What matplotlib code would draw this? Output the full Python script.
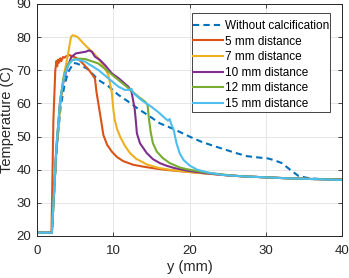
import matplotlib
matplotlib.use('Agg')
import matplotlib.pyplot as plt
from matplotlib.patches import Rectangle

plt.rcParams['font.family'] = ['Liberation Sans', 'DejaVu Sans']

# curve data (y in mm, temperature in C)
x_ref = [0, 1.95, 2.6, 3.1, 3.6, 4.1, 4.8, 5.3, 6.0, 6.7, 8.04, 9.35, 10.66, 12, 13.3, 14.6,
         16.1, 17.9, 20, 21.5, 23, 24.5, 26, 27.5, 29, 30.3, 31.2, 32.1, 33.2, 34.3, 35.5,
         37, 40]
t_ref = [21, 21, 47, 59, 65.5, 69.5, 72.2, 72, 71.2, 70.3, 67.1, 65.2, 62.6, 60.5, 58.3, 56.4,
         54, 52.3, 50, 48.5, 47.3, 46.2, 45.1, 44.1, 43.7, 43.4, 42.8, 42, 40, 38.1, 37.5,
         37.2, 37]

x_5 = [0, 1.9, 2.15, 2.4, 2.55, 2.65, 2.75, 2.9, 3.05, 3.2, 3.4, 3.6, 3.8, 4.25, 5.1, 5.7,
       6.4, 6.9, 7.4, 7.6, 7.8, 8.15, 8.4, 8.7, 9.2, 9.8, 10.5, 11.3, 12.6, 14, 16, 18, 20,
       22, 25, 27, 30, 33, 36, 40]
t_5 = [21, 21, 55, 70, 72.8, 71.2, 73.2, 72.3, 73.6, 72.8, 74, 73.8, 74.2, 74.6, 73.8, 72.8,
       71.1, 69.8, 68.2, 67.5, 63.5, 58.5, 55, 50.5, 47.5, 45.5, 43.8, 42.6, 41.5, 40.9, 40.2,
       39.7, 39.3, 38.9, 38.3, 38.0, 37.7, 37.4, 37.2, 37.0]

x_7 = [0, 1.95, 2.5, 3.0, 3.4, 4.0, 4.46, 4.7, 5.3, 6.3, 7.5, 8.04, 8.9, 9.35, 9.8, 10.0,
       10.2, 10.5, 10.9, 11.5, 12.2, 13, 14.4, 16, 18, 20, 22, 25, 27, 30, 33, 36, 40]
t_7 = [21, 21, 45, 58, 67, 74, 80.1, 80.6, 80.1, 77.6, 75, 73.6, 70.6, 68.6, 63.5, 58.5,
       55, 52.3, 50, 47.3, 45, 43.3, 41.6, 40.5, 39.8, 39.3, 38.9, 38.3, 38.0, 37.7, 37.4,
       37.2, 37.0]

x_10 = [0, 1.95, 2.5, 3.0, 3.5, 4.0, 4.5, 5.1, 6.4, 6.8, 7.2, 7.6, 8.26, 8.9, 9.8, 10.7, 12,
        12.4, 12.6, 12.8, 12.95, 13.1, 13.5, 14.4, 15.2, 16.1, 17, 18, 20, 22, 25, 27, 30, 33,
        36, 40]
t_10 = [21, 21, 45, 60, 67, 71, 74, 75.1, 75.6, 76, 75.6, 74.1, 73.1, 71.6, 69.1, 67.6, 65,
        63.5, 61, 58.5, 55, 51, 48, 45, 43.2, 42, 41.2, 40.5, 39.6, 39.0, 38.3, 38.0, 37.7,
        37.4, 37.2, 37.0]

x_12 = [0, 1.95, 2.6, 3.1, 3.6, 4.1, 4.7, 5.5, 6.3, 8.0, 9.35, 10.66, 12, 13.3, 14.2, 14.5,
        14.7, 14.9, 15.2, 15.7, 16.5, 17.4, 18.8, 20, 22, 25, 27, 30, 33, 36, 40]
t_12 = [21, 21, 48, 62, 69, 72, 73.2, 73.5, 73.4, 72.1, 69.6, 67.1, 64.6, 62, 60.5, 59.5,
        55, 51.5, 48, 45.5, 43.5, 42, 40.6, 40, 39.2, 38.4, 38.0, 37.7, 37.4, 37.2, 37.0]

x_15 = [0, 1.95, 2.6, 3.1, 3.6, 4.1, 4.6, 5.2, 6.3, 8.04, 9.35, 10.66, 11.5, 12.2, 12.4,
        12.6, 13.7, 15.0, 16.0, 16.8, 17.2, 17.4, 17.6, 17.9, 18.3, 18.7, 19.2, 20, 21, 22.5,
        24.4, 27, 30, 33, 36, 40]
t_15 = [21, 21, 49, 62, 68.5, 71.5, 73, 73.3, 72.6, 70.1, 67.6, 65.1, 64.1, 64.1, 64.4,
        63.2, 61, 59, 57.2, 55.5, 54.8, 55.3, 53.8, 52.2, 48, 45, 43, 41.3, 40, 39.1, 38.4,
        38.0, 37.7, 37.4, 37.2, 36.9]

labels = ['Without calcification', '5 mm distance', '7 mm distance',
          '10 mm distance', '12 mm distance', '15 mm distance']
colors = ['#0072BD', '#D95319', '#EDB120', '#7E2F8E', '#77AC30', '#4DBEEE']

fig = plt.figure(figsize=(3.49, 2.78), dpi=100)
ax = fig.add_axes([37 / 349, 42 / 278, 305 / 349, 232 / 278])

ax.plot(x_ref, t_ref, color=colors[0], lw=1.5, dashes=(3, 2), label=labels[0])
series = [(x_5, t_5), (x_7, t_7), (x_10, t_10), (x_12, t_12), (x_15, t_15)]
for (xs, ts), c, lab in zip(series, colors[1:], labels[1:]):
    ax.plot(xs, ts, color=c, lw=1.5, label=lab)

ax.set_xlim(0, 40)
ax.set_ylim(20, 90)
ax.set_xticks([0, 10, 20, 30, 40])
ax.set_yticks(range(20, 91, 10))
ax.set_xlabel('y (mm)', fontsize=10.5, color='#262626', labelpad=2.5)
ax.set_ylabel('Temperature (C)', fontsize=10.5, color='#262626', labelpad=2)

ax.grid(True, color='#e2e2e2', linewidth=0.6)
ax.set_axisbelow(True)
ax.tick_params(direction='in', top=True, right=True, length=3, width=0.6,
               colors='#262626', labelsize=9.5)
ax.tick_params(axis='x', pad=6.5)
ax.tick_params(axis='y', pad=4)
for s in ax.spines.values():
    s.set_color('#262626')
    s.set_linewidth(0.7)

# legend: entries without frame, box drawn separately (MATLAB-like tight sides)
leg = ax.legend(loc='upper right', bbox_to_anchor=(0.957, 0.931), borderaxespad=0,
                fontsize=8.5, handlelength=2.6, handletextpad=0.1, labelspacing=0.3,
                borderpad=0, frameon=False)
leg.set_zorder(6)
ax.add_patch(Rectangle((0.508, 0.534), 0.453, 0.427, transform=ax.transAxes,
                       facecolor='white', edgecolor='#262626', linewidth=0.6, zorder=5))

fig.savefig('out.png', dpi=100)
